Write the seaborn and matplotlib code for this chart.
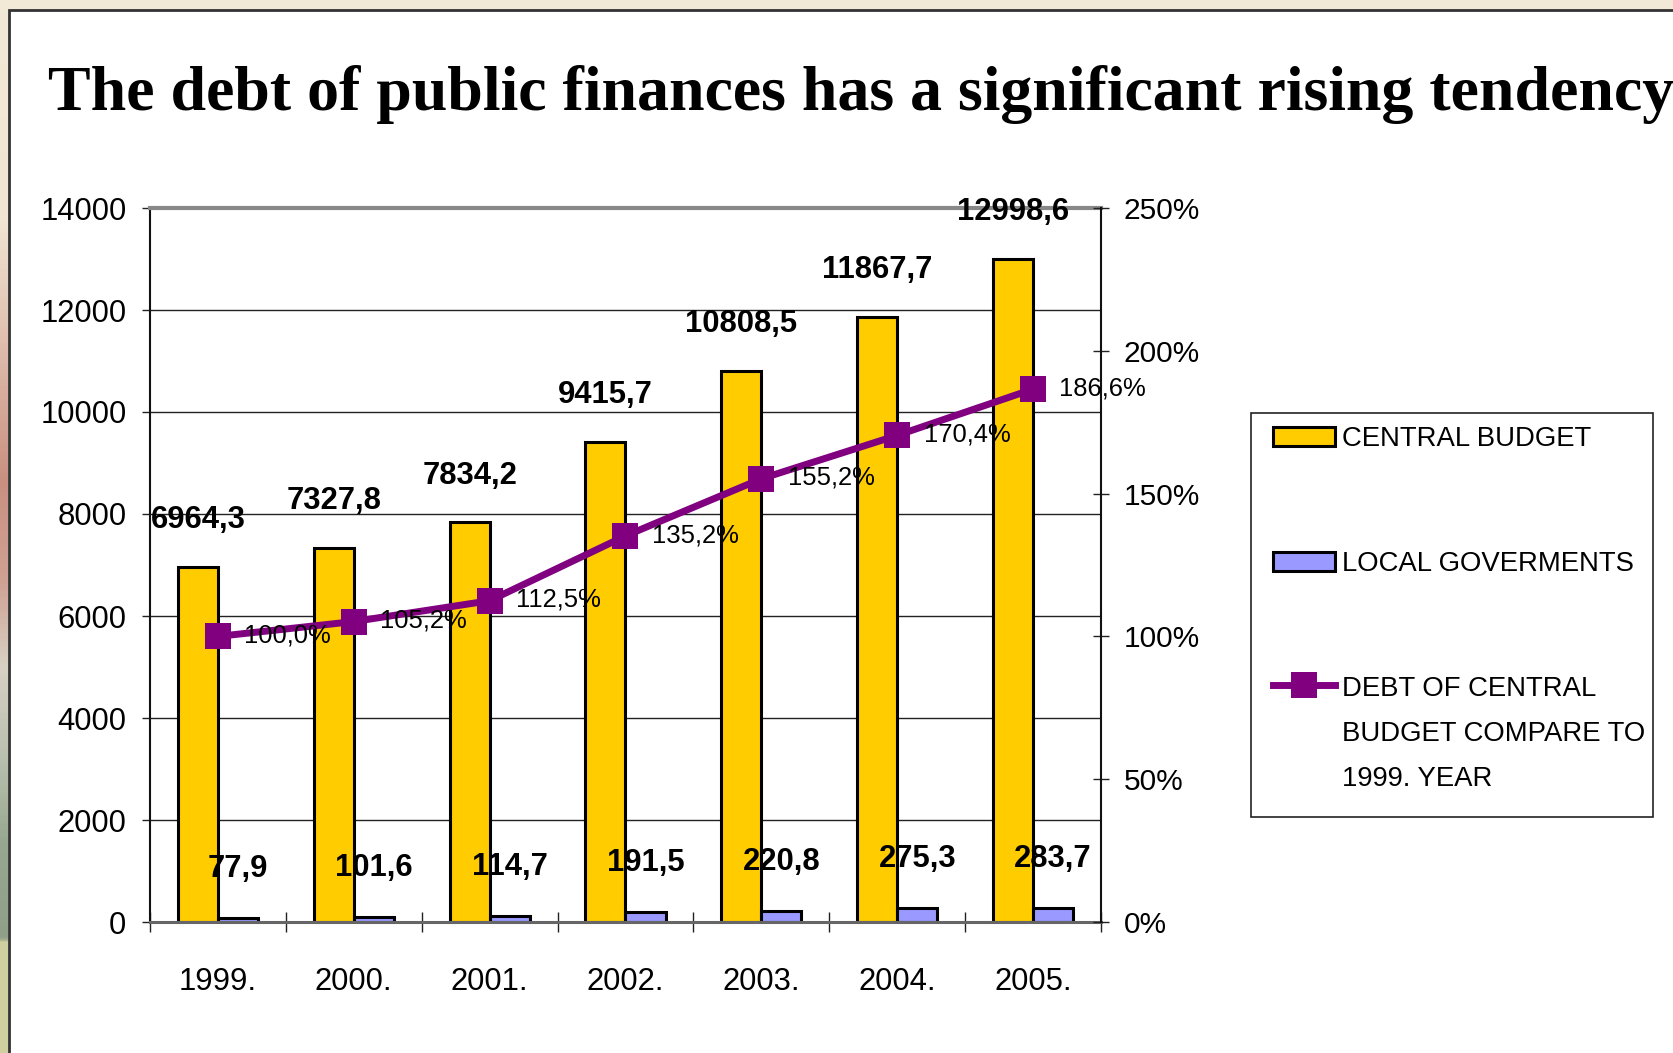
import numpy as np
import pandas as pd
import matplotlib
matplotlib.use("Agg")
import matplotlib.pyplot as plt
from matplotlib import font_manager
from matplotlib.patches import Rectangle, Patch
from matplotlib.lines import Line2D
from matplotlib.colors import LinearSegmentedColormap
import seaborn as sns

# ---------------- data ----------------
years = ["1999.", "2000.", "2001.", "2002.", "2003.", "2004.", "2005."]
central_budget = [6964.3, 7327.8, 7834.2, 9415.7, 10808.5, 11867.7, 12998.6]
local_governments = [77.9, 101.6, 114.7, 191.5, 220.8, 275.3, 283.7]
debt_index_pct = [100.0, 105.2, 112.5, 135.2, 155.2, 170.4, 186.6]
series_names = ["CENTRAL BUDGET", "LOCAL GOVERMENTS",
                "DEBT OF CENTRAL\nBUDGET COMPARE TO\n1999. YEAR"]
left_ticks = [0, 2000, 4000, 6000, 8000, 10000, 12000, 14000]
right_ticks = [0, 50, 100, 150, 200, 250]
title = "The debt of public finances has a significant rising tendency"

# ---------------- fonts ----------------
avail = {f.name for f in font_manager.fontManager.ttflist}
if "Liberation Sans Narrow" in avail:
    SANS = "Liberation Sans Narrow"
    k = 1.0
else:
    SANS = "Liberation Sans"
    k = 0.86
plt.rcParams["font.family"] = [SANS, "DejaVu Sans"]

W, H = 1674, 1053
fig = plt.figure(figsize=(W / 100, H / 100), dpi=100)
fig.patch.set_facecolor("#F2EAD6")

# slide background: white panel with dark border
fig.patches.append(Rectangle((9 / W, -0.01), 1.0, 1 - 10 / H + 0.01,
                             transform=fig.transFigure, facecolor="white",
                             edgecolor="#333333", lw=2, zorder=-10))
# left decorative gradient strip
gax = fig.add_axes([0, 0, 8 / W, 1 - 10 / H])
gax.set_zorder(-5)
cmap = LinearSegmentedColormap.from_list(
    "strip",
    [(0.0, "#F2EAD6"), (0.2, "#F0E4D2"), (0.3, "#E2C4B4"), (0.45, "#C99080"),
     (0.55, "#CFA294"), (0.63, "#D8D0C4"), (0.72, "#B8C0B0"), (0.8, "#98A890"),
     (0.893, "#90A088"), (0.897, "#CFCF9F"), (1.0, "#CFCF9F")])
gax.imshow(np.linspace(0, 1, 400).reshape(-1, 1), aspect="auto", cmap=cmap)
gax.axis("off")

# title
fig.text(48 / W, 1 - 110 / H, title, fontsize=46, fontweight="bold",
         family=["Liberation Serif", "DejaVu Serif"], va="baseline", ha="left")

# ---------------- main axes ----------------
ax = fig.add_axes([150 / W, 1 - 922 / H, (1101 - 150) / W, (922 - 208) / H])
ax.set_zorder(1)
ax.patch.set_visible(False)
df = pd.DataFrame({
    "year": years * 2,
    "value": central_budget + local_governments,
    "series": [series_names[0]] * len(years) + [series_names[1]] * len(years),
})
sns.barplot(data=df, x="year", y="value", hue="series",
            hue_order=series_names[:2], palette=["#FFCC00", "#9999FF"],
            width=0.59, saturation=1, edgecolor="black", linewidth=2.2,
            legend=False, ax=ax, zorder=2)
ax.set_xlabel("")
ax.set_ylabel("")
ax.set_ylim(0, 14000)
ax.set_yticks(left_ticks)
ax.set_yticklabels([str(t) for t in left_ticks], fontsize=26 * k)
ax.set_axisbelow(True)
ax.yaxis.grid(True, color="#222222", lw=1.0)
ax.tick_params(axis="y", direction="out", length=6, width=1, pad=11, color="#222222")
ax.set_xticks(np.arange(len(years)))
ax.set_xticklabels(years, fontsize=26 * k)
ax.set_xticks(np.arange(-0.5, len(years), 1), minor=True)
ax.tick_params(axis="x", which="major", length=0, pad=32.5)
ax.tick_params(axis="x", which="minor", direction="inout", length=15, width=1, color="#222222")
ax.spines["left"].set_color("#111111")
ax.spines["left"].set_linewidth(1.5)
ax.spines["top"].set_color("#888888")
ax.spines["top"].set_linewidth(3)
ax.spines["bottom"].set_color("#666666")
ax.spines["bottom"].set_linewidth(2.2)
ax.spines["right"].set_visible(False)

def fmt(v):
    return f"{v:.1f}".replace(".", ",")

for ci, cont in enumerate(ax.containers):
    off = 28 if ci == 0 else 29.5
    for bar in cont:
        xc = bar.get_x() + bar.get_width() / 2
        h = bar.get_height()
        ax.annotate(fmt(h), xy=(xc, h), xytext=(0, off), textcoords="offset points",
                    ha="center", va="baseline", fontsize=26 * k, fontweight="bold",
                    zorder=5, annotation_clip=False)

# ---------------- secondary axis ----------------
ax2 = ax.twinx()
ax2.set_zorder(2)
ax2.patch.set_visible(False)
xpos = np.arange(len(years))
sns.lineplot(x=xpos, y=debt_index_pct, ax=ax2, color="#800080", linewidth=5,
             marker="s", markersize=19, markeredgewidth=0, legend=False)
ax2.set_ylim(0, 250)
ax2.set_yticks(right_ticks)
ax2.set_yticklabels([f"{t}%" for t in right_ticks], fontsize=25 * k)
ax2.tick_params(axis="y", direction="inout", length=12, width=1, pad=10.5, color="#222222")
ax2.set_ylabel("")
for s in ["left", "top", "bottom"]:
    ax2.spines[s].set_visible(False)
ax2.spines["right"].set_color("#111111")
ax2.spines["right"].set_linewidth(1.5)
for xv, p in zip(xpos, debt_index_pct):
    ax2.annotate(fmt(p) + "%", xy=(xv, p), xytext=(19, -4.5), textcoords="offset points",
                 ha="left", va="baseline", fontsize=21.5 * k, zorder=6)
ax.set_xlim(-0.5, len(years) - 0.5)
ax2.set_xlim(-0.5, len(years) - 0.5)

# ---------------- legend ----------------
fig.patches.append(Rectangle((1251 / W, 1 - 817 / H), 402 / W, 404 / H,
                             transform=fig.transFigure, facecolor="white",
                             edgecolor="#222222", lw=1.2, zorder=-9))
handles = [Patch(facecolor="#FFCC00", edgecolor="black", lw=2.2),
           Patch(facecolor="#9999FF", edgecolor="black", lw=2.2),
           Line2D([], [], color="#800080", lw=5, marker="s", markersize=19,
                  markeredgewidth=0)]
fs = 23 * k
leg = fig.legend(handles, series_names, loc="upper left",
                 bbox_to_anchor=(1273 / W, 1 - 426 / H), frameon=False,
                 fontsize=fs, handlelength=2.25, handleheight=0.7,
                 handletextpad=0.25, labelspacing=3.6, borderpad=0,
                 borderaxespad=0)
for t in leg.get_texts():
    t.set_linespacing(1.95)
# align the line handle with the first line of its multi-line label
try:
    for col in leg._legend_handle_box.get_children():
        rows = col.get_children()
        rows[-1].align = "top"
except Exception:
    pass

fig.savefig("out.png", dpi=100, facecolor=fig.get_facecolor())
